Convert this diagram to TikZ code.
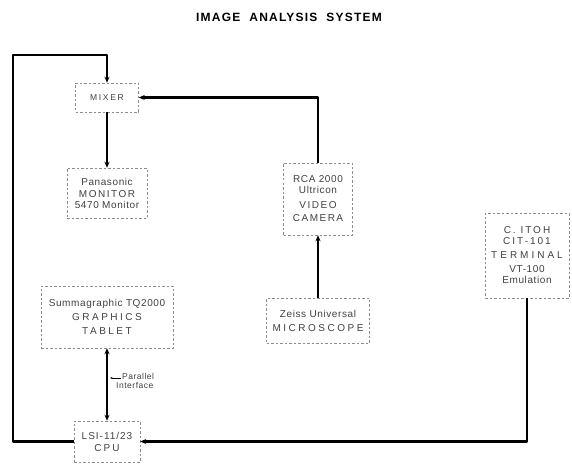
\documentclass[tikz,border=0pt]{standalone}
\usepackage{fontspec}
\setmainfont{Liberation Sans}[LetterSpace=6]
\usetikzlibrary{arrows.meta}
\newcommand\spaced[2][15]{{\addfontfeature{LetterSpace=#1}#2}}

\begin{document}
\begin{tikzpicture}[x=1pt,y=-1pt,>={Stealth[length=6pt,width=5pt]}, font=\fontsize{10}{11}\selectfont, line join=round]
	\tikzset{
		unit/.style={draw=black!45, dash pattern=on 2.5pt off 2pt, line width=0.5pt, text=black!75, align=center, inner sep=0pt},
		link/.style={line width=2.1pt},
		note/.style={text=black!75, font=\fontsize{8.5}{9.5}\selectfont, align=left, inner sep=0pt}
	}
	\useasboundingbox (0,0) rectangle (572,465);
	
	\def\xl{13} \def\yt{55}
	\def\yb{441.5}
	
	\node[font=\bfseries\fontsize{12}{14}\selectfont] (title) at (289,17) {\spaced[10]{IMAGE\ \ ANALYSIS\ \ SYSTEM}};
	
	% boxes
	\node[unit, minimum width=63, minimum height=29, font=\fontsize{8.5}{10}\selectfont] (mixer) at (107,97.5) {\spaced[20]{MIXER}};
	\node[unit, minimum width=80, minimum height=50] (monitor) at (107,193) {Panasonic\\[1pt] \spaced{MONITOR}\\ 5470 Monitor};
	\node[unit, minimum width=69, minimum height=72] (camera) at (318,199) {RCA 2000\\ Ultricon\\[4pt] \spaced{VIDEO}\\[2pt] \spaced{CAMERA}};
	\node[unit, minimum width=103, minimum height=45] (scope) at (318,320.5) {Zeiss Universal\\[3pt] \spaced[25]{MICROSCOPE}};
	\node[unit, minimum width=84, minimum height=85] (terminal) at (527,255.5) {\spaced[20]{C. ITOH}\\ \spaced[20]{CIT-101}\\[3pt] \spaced[30]{TERMINAL}\\[3pt] VT-100\\ Emulation};
	\node[unit, minimum width=132, minimum height=62] (tablet) at (107,317) {Summagraphic TQ2000\\[3pt] \spaced[25]{GRAPHICS}\\[3pt] \spaced[25]{TABLET}};
	\node[unit, minimum width=66, minimum height=41] (cpu) at (107,\yb) {\spaced[10]{LSI-11/23}\\[1pt] \spaced[20]{CPU}};
	
	% connections
	\coordinate (bl) at (\xl,\yb);
	\coordinate (tl) at (\xl,\yt);
	\draw[link,->] (cpu.west) -- (bl) -- (tl) -| (mixer.north);
	\draw[link,->] (camera.north) |- (mixer.east);
	\draw[link,->] (mixer.south) -- (monitor.north);
	\draw[link,->] (scope.north) -- (camera.south);
	\draw[link,<->] (tablet.south) -- (cpu.north);
	\draw[link,->] (terminal.south) |- (cpu.east);
	
	\node[note, anchor=north west] (par) at (116,373) {\hspace{6pt}Parallel\\Interface};
	\coordinate (pa) at (110,378);
	\coordinate (pb) at (121,378);
	\draw[line width=0.5pt,-{Stealth[length=2.5pt,width=2pt]}] (pb) -- (pa);
\end{tikzpicture}
\end{document}
